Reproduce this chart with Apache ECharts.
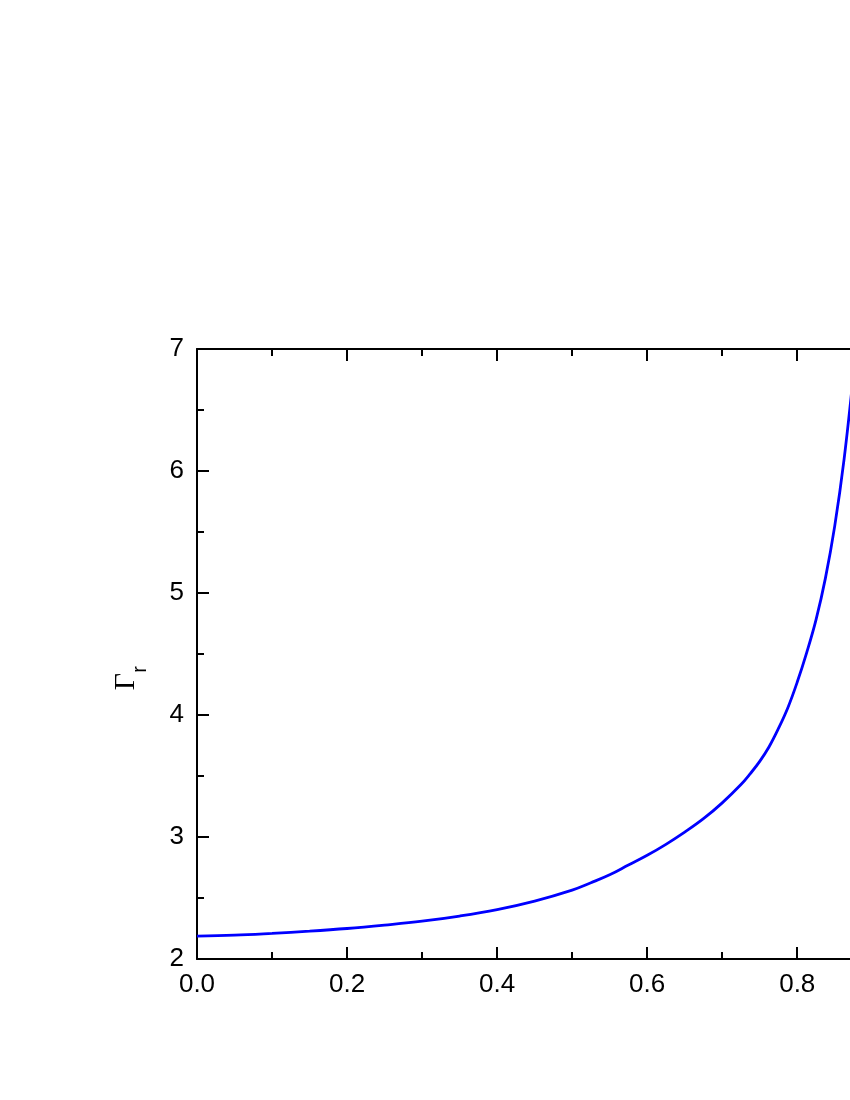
<!DOCTYPE html>
<html>
<head>
<meta charset="utf-8">
<script src="https://cdn.jsdelivr.net/npm/echarts@6/dist/echarts.min.js"></script>
<style>
  html, body { margin: 0; padding: 0; background: #fff; overflow: hidden; }
  #chart { width: 1000px; height: 1100px; }
</style>
</head>
<body>
<div id="chart"></div>
<script>
// values
var xValues = [0.00, 0.05, 0.10, 0.15, 0.20, 0.25, 0.30, 0.35, 0.40, 0.45, 0.50,
               0.525, 0.55, 0.575, 0.60, 0.625, 0.65, 0.675, 0.70, 0.725, 0.7375, 0.75,
               0.7625, 0.775, 0.7875, 0.80, 0.8125, 0.825, 0.8375, 0.85, 0.8625, 0.875];
var gammaValues = [2.188, 2.195, 2.21, 2.228, 2.25, 2.278, 2.31, 2.352, 2.405, 2.475, 2.565,
                   2.625, 2.69, 2.77, 2.85, 2.94, 3.04, 3.15, 3.28, 3.43, 3.52, 3.62,
                   3.74, 3.89, 4.06, 4.27, 4.51, 4.78, 5.12, 5.55, 6.10, 6.80];

var xTicks = [0.0, 0.2, 0.4, 0.6, 0.8, 1.0];
var yTicks = [2, 3, 4, 5, 6, 7];

var seriesData = xValues.map(function (x, i) { return [x, gammaValues[i]]; });

var axisLine = { show: true, onZero: false, lineStyle: { color: '#000', width: 2 } };
var tickStyle = { color: '#000', width: 2 };

function makeAxis(pos, min, max, interval, labels) {
    return {
        type: 'value',
        position: pos,
        min: min,
        max: max,
        interval: interval,
        axisLine: axisLine,
        axisTick: { show: true, inside: true, length: 12, lineStyle: tickStyle },
        minorTick: { show: true, splitNumber: 2, length: 7, lineStyle: tickStyle },
        splitLine: { show: false },
        minorSplitLine: { show: false },
        axisLabel: labels ? {
            show: true,
            color: '#000',
            fontFamily: 'Liberation Sans',
            fontSize: 26,
            margin: 13,
            formatter: function (v) {
                return (pos === 'bottom') ? v.toFixed(1) : String(v);
            }
        } : { show: false }
    };
}

var chart = echarts.init(document.getElementById('chart'), null, { renderer: 'canvas' });

var option = {
    animation: false,
    backgroundColor: '#fff',
    grid: { left: 197, top: 349, right: 52.7, bottom: 141, containLabel: false },
    xAxis: [
        makeAxis('bottom', xTicks[0], xTicks[xTicks.length - 1], 0.2, true),
        makeAxis('top', xTicks[0], xTicks[xTicks.length - 1], 0.2, false)
    ],
    yAxis: [
        makeAxis('left', yTicks[0], yTicks[yTicks.length - 1], 1, true),
        makeAxis('right', yTicks[0], yTicks[yTicks.length - 1], 1, false)
    ],
    series: [{
        type: 'line',
        data: seriesData,
        smooth: 0.4,
        showSymbol: false,
        clip: true,
        lineStyle: { color: '#0000ff', width: 2.8 }
    }],
    graphic: [
        {
            type: 'text',
            x: 126, y: 681.5,
            rotation: Math.PI / 2,
            style: {
                text: 'Γ',
                fontFamily: 'Liberation Serif',
                fontSize: 30,
                fill: '#000',
                align: 'center',
                verticalAlign: 'middle'
            }
        },
        {
            type: 'text',
            x: 140, y: 669.5,
            rotation: Math.PI / 2,
            style: {
                text: 'r',
                fontFamily: 'Liberation Sans',
                fontSize: 20,
                fill: '#000',
                align: 'center',
                verticalAlign: 'middle'
            }
        }
    ]
};

chart.setOption(option);
</script>
</body>
</html>
